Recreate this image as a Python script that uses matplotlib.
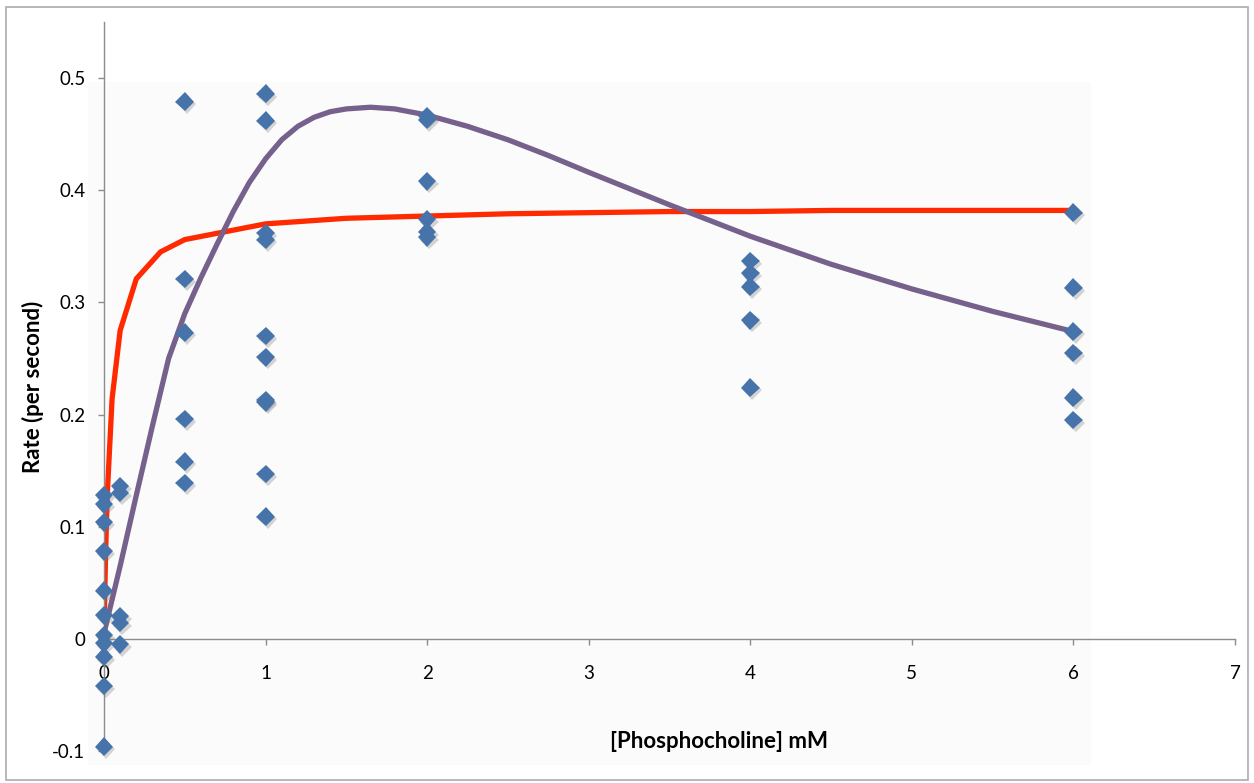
import matplotlib
matplotlib.use("agg")
import matplotlib.pyplot as plt
import matplotlib.patheffects as pe
from matplotlib.patches import Rectangle

# measured rates, grouped by phosphocholine concentration (mM)
conc_0 = [0.128, 0.120, 0.104, 0.078, 0.043, 0.021, 0.003, -0.004, -0.016, -0.042, -0.096]
conc_01 = [0.136, 0.130, 0.020, 0.014, -0.005]
conc_05 = [0.479, 0.321, 0.273, 0.196, 0.158, 0.139]
conc_1 = [0.486, 0.462, 0.362, 0.356, 0.270, 0.251, 0.213, 0.211, 0.147, 0.109]
conc_2 = [0.466, 0.463, 0.408, 0.374, 0.363, 0.358]
conc_4 = [0.337, 0.326, 0.314, 0.284, 0.224]
conc_6 = [0.380, 0.313, 0.274, 0.255, 0.215, 0.195]
groups = [(0.0, conc_0), (0.1, conc_01), (0.5, conc_05), (1.0, conc_1),
          (2.0, conc_2), (4.0, conc_4), (6.0, conc_6)]

# fitted curves
red_x = [0, 0.005, 0.01, 0.02, 0.05, 0.1, 0.2, 0.35, 0.5, 1, 1.5, 2, 2.5, 3, 3.5, 4, 4.5, 5, 5.5, 6]
red_y = [0.0, 0.043, 0.077, 0.128, 0.214, 0.275, 0.321, 0.345, 0.356, 0.370, 0.375,
         0.377, 0.379, 0.380, 0.381, 0.381, 0.382, 0.382, 0.382, 0.382]
purple_x = [0, 0.1, 0.2, 0.3, 0.4, 0.5, 0.6, 0.7, 0.8, 0.9, 1.0, 1.1, 1.2, 1.3, 1.4, 1.5,
            1.65, 1.8, 2.0, 2.25, 2.5, 2.75, 3.0, 3.5, 4.0, 4.5, 5.0, 5.5, 6.0]
purple_y = [0.005, 0.065, 0.128, 0.19, 0.25, 0.29, 0.322, 0.352, 0.381, 0.407, 0.428, 0.445,
            0.457, 0.465, 0.470, 0.4725, 0.474, 0.4725, 0.467, 0.457, 0.445, 0.431, 0.416,
            0.387, 0.359, 0.334, 0.312, 0.292, 0.274]

plt.rcParams["font.family"] = ["Lato", "DejaVu Sans"]

W, H = 1254, 783
fig = plt.figure(figsize=(W / 100, H / 100), dpi=100)

# chart border and faint plot-area fill (pixel coords -> figure fraction)
fig.patches.append(Rectangle((6 / W, 1 - 780 / H), 1242 / W, 773 / H, transform=fig.transFigure,
                             fill=False, edgecolor="#ababab", linewidth=1.2, zorder=0))
fig.patches.append(Rectangle((88 / W, 1 - 765 / H), 1003 / W, 683 / H, transform=fig.transFigure,
                             facecolor="#fbfbfb", edgecolor="none", zorder=0))

ax = fig.add_axes([104 / W, 1 - 751 / H, 1131 / W, 729 / H])
ax.set_facecolor("none")
ax.set_zorder(2)

ax.plot(red_x, red_y, color="#ff2a00", lw=3.8, solid_joinstyle="miter", zorder=2)
ax.plot(purple_x, purple_y, color="#76608c", lw=3.8, solid_capstyle="round", zorder=3)

shadow = [pe.SimplePatchShadow(offset=(1.5, -2), shadow_rgbFace="#777777", alpha=0.3), pe.Normal()]
for xv, ys in groups:
    ax.plot([xv] * len(ys), ys, linestyle="none", marker="D", ms=9.5, color="#4674aa",
            markeredgewidth=0, path_effects=shadow, zorder=4, clip_on=False)

ax.set_xlim(0, 7)
ax.set_ylim(-0.1, 0.55)
ax.set_xticks(range(0, 8))
ax.set_yticks([-0.1, 0, 0.1, 0.2, 0.3, 0.4, 0.5])
ax.set_yticklabels(["-0.1", "0", "0.1", "0.2", "0.3", "0.4", "0.5"])

for s in ("top", "right"):
    ax.spines[s].set_visible(False)
ax.spines["bottom"].set_position(("data", 0))
for s in ("left", "bottom"):
    ax.spines[s].set_color("#8c8c8c")
    ax.spines[s].set_linewidth(1.0)

ax.tick_params(axis="x", direction="out", length=4, width=1, color="#8c8c8c",
               labelsize=13.5, pad=15)
ax.tick_params(axis="y", direction="out", length=4.5, width=1, color="#8c8c8c",
               labelsize=13.5, pad=9)

fig.text(719 / W, 1 - 742 / H, "[Phosphocholine] mM", ha="center", va="center",
         fontsize=16, fontweight="bold")
fig.text(33 / W, 1 - 387 / H, "Rate (per second)", ha="center", va="center",
         rotation=90, fontsize=16, fontweight="bold")

fig.savefig("out.png", dpi=100)
